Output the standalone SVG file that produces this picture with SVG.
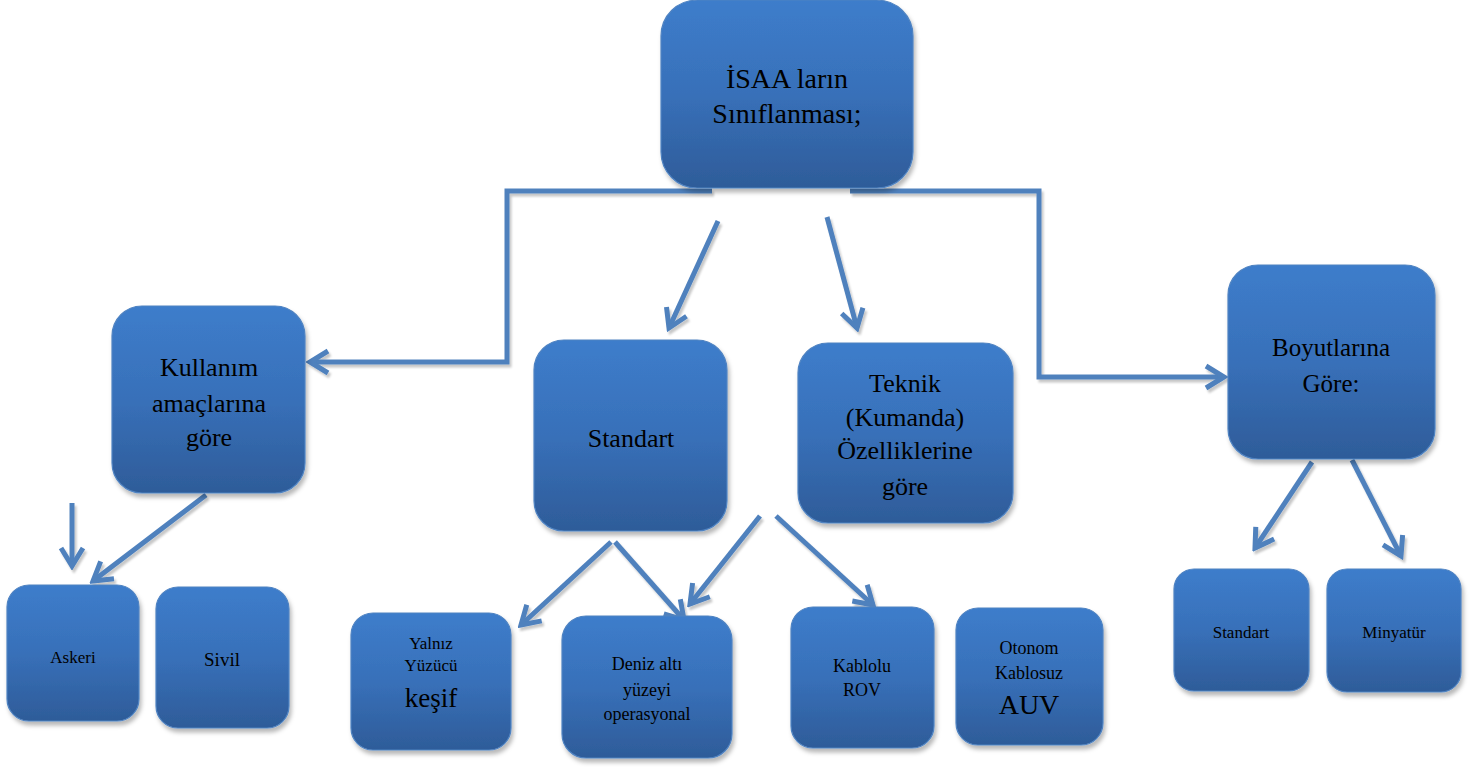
<svg xmlns="http://www.w3.org/2000/svg" width="1478" height="767" viewBox="0 0 1478 767">
<style>
.n rect{fill:url(#g);stroke:#4f83c2;stroke-width:1.2;filter:url(#sh)}
.n text{font-family:"Liberation Serif","Times New Roman","DejaVu Serif",serif;fill:#000;text-anchor:middle}
.c path{fill:none;stroke:#4f81bd;stroke-width:5;filter:url(#shl)}
.c .e{marker-end:url(#a)}
</style>
<defs>
<linearGradient id="g" x1="0" y1="0" x2="0" y2="1">
<stop offset="0" stop-color="#3d7dcb"/>
<stop offset="0.5" stop-color="#3870b9"/>
<stop offset="1" stop-color="#2e5c99"/>
</linearGradient>
<filter id="sh" x="-10%" y="-10%" width="125%" height="125%">
<feDropShadow dx="2" dy="4" stdDeviation="2" flood-color="#000" flood-opacity="0.28"/>
</filter>
<filter id="shl" filterUnits="userSpaceOnUse" x="0" y="0" width="1478" height="767">
<feDropShadow dx="2" dy="3" stdDeviation="1" flood-color="#000" flood-opacity="0.22"/>
</filter>
<marker id="a" markerUnits="userSpaceOnUse" viewBox="-22 -14 26 28" refX="0" refY="0" markerWidth="26" markerHeight="28" orient="auto">
<path d="M-18,-11 L0,0 L-18,11" fill="none" stroke="#4f81bd" stroke-width="5" stroke-linejoin="miter"/>
</marker>
</defs>
<g class="c" id="connectors">
<path class="e" d="M712,191 H507 V362 H310"/>
<path class="e" d="M850,191 H1039 V377 H1224"/>
<path class="e" d="M718,221 L669,328"/>
<path class="e" d="M827,217 L857,328"/>
<path class="e" d="M206,495 L93,581"/>
<path class="e" d="M72,503 L72,566"/>
<path class="e" d="M611,542 L521,625"/>
<path class="e" d="M615,542 L684,620"/>
<path class="e" d="M760,516 L690,604"/>
<path class="e" d="M776,516 L873,605"/>
<path class="e" d="M1312,462 L1255,548"/>
<path class="e" d="M1352,460 L1401,556"/>
</g>
<g class="n" id="root"><rect x="661" y="0" width="252" height="188" rx="36"/>
<text x="787" y="88" font-size="28">İSAA ların</text><text x="787" y="123" font-size="28">Sınıflanması;</text></g>
<g class="n" id="kullanim"><rect x="112" y="306" width="193" height="187" rx="30"/>
<text x="209" y="376" font-size="26">Kullanım</text><text x="209" y="412" font-size="26">amaçlarına</text><text x="209" y="446" font-size="26">göre</text></g>
<g class="n" id="standart"><rect x="534" y="340" width="193" height="191" rx="30"/>
<text x="631" y="447" font-size="26">Standart</text></g>
<g class="n" id="teknik"><rect x="798" y="343" width="215" height="180" rx="30"/>
<text x="905" y="392" font-size="26">Teknik</text><text x="905" y="426" font-size="26">(Kumanda)</text><text x="905" y="459" font-size="26">Özelliklerine</text><text x="905" y="495" font-size="26">göre</text></g>
<g class="n" id="boyut"><rect x="1228" y="265" width="207" height="194" rx="30"/>
<text x="1331" y="356" font-size="25">Boyutlarına</text><text x="1331" y="392" font-size="25">Göre:</text></g>
<g class="n" id="askeri"><rect x="7" y="585" width="132" height="136" rx="22"/>
<text x="73" y="663" font-size="17">Askeri</text></g>
<g class="n" id="sivil"><rect x="156" y="587" width="133" height="141" rx="22"/>
<text x="222" y="666" font-size="19">Sivil</text></g>
<g class="n" id="yalniz"><rect x="351" y="613" width="160" height="137" rx="22"/>
<text x="431" y="649" font-size="17">Yalnız</text><text x="431" y="671" font-size="17">Yüzücü</text><text x="431" y="707" font-size="27">keşif</text></g>
<g class="n" id="deniz"><rect x="562" y="616" width="170" height="142" rx="24"/>
<text x="647" y="670" font-size="18">Deniz altı</text><text x="647" y="696" font-size="18">yüzeyi</text><text x="647" y="720" font-size="18">operasyonal</text></g>
<g class="n" id="kablolu"><rect x="791" y="607" width="143" height="141" rx="22"/>
<text x="862" y="672" font-size="18">Kablolu</text><text x="862" y="696" font-size="18">ROV</text></g>
<g class="n" id="otonom"><rect x="956" y="608" width="147" height="137" rx="22"/>
<text x="1029" y="654" font-size="18">Otonom</text><text x="1029" y="679" font-size="18">Kablosuz</text><text x="1029" y="714" font-size="28">AUV</text></g>
<g class="n" id="std2"><rect x="1174" y="569" width="135" height="122" rx="20"/>
<text x="1241" y="638" font-size="17">Standart</text></g>
<g class="n" id="minyatur"><rect x="1327" y="569" width="134" height="123" rx="20"/>
<text x="1394" y="638" font-size="17">Minyatür</text></g>
</svg>
